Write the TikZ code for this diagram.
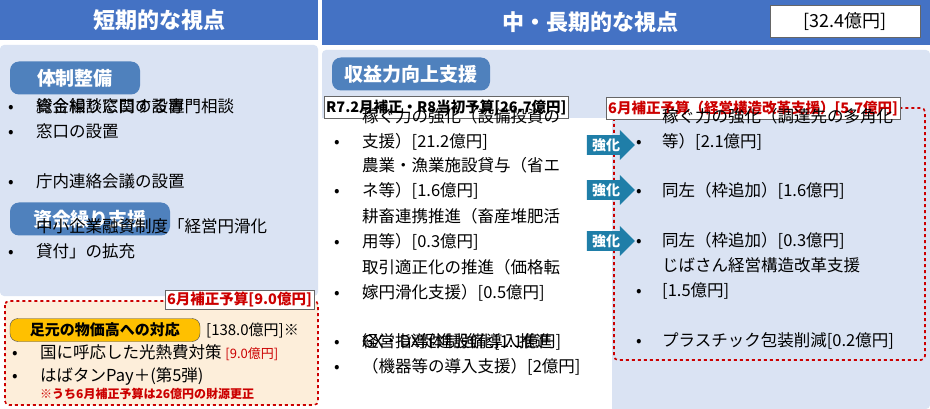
\documentclass[tikz,border=0pt]{standalone}
\usepackage{fontspec}
\setmainfont{Noto Sans CJK JP}
\usetikzlibrary{shapes.arrows}
\definecolor{hdblue}{RGB}{68,114,196}
\definecolor{panel}{RGB}{218,227,243}
\definecolor{pillblue}{RGB}{79,129,189}
\definecolor{arrowblue}{RGB}{31,126,168}
\definecolor{redline}{RGB}{204,0,0}
\definecolor{paleorange}{RGB}{253,238,218}
\definecolor{gold}{RGB}{255,192,0}
\tikzset{
  header/.style={fill=hdblue, draw=none},
  pill/.style={rounded corners=9pt, fill=pillblue, text=white, font=\fontsize{19}{22}\selectfont\bfseries, inner sep=0pt, minimum height=33pt},
  body/.style={anchor=north west, align=left, inner sep=0pt, text height=15pt, text depth=4pt, font=\fontsize{16.5}{24.5}\selectfont},
  dot/.style={anchor=north west, inner sep=0pt, text height=15pt, text depth=4pt, font=\fontsize{16.5}{24.5}\selectfont},
  tag/.style={draw=black!60, fill=white, inner sep=2pt, font=\fontsize{14.5}{16}\selectfont\bfseries},
  strong/.style={single arrow, fill=arrowblue, text=white, minimum height=48pt, minimum width=30pt,
    single arrow head extend=4pt, inner sep=1pt, font=\fontsize{14}{16}\selectfont\bfseries}
}
\begin{document}
\begin{tikzpicture}[x=1pt, y=-1pt]
  \useasboundingbox (0,0) rectangle (930,409);
  % headers
  \fill[header] (0,0) rectangle (318,40);
  \node[text=white, font=\fontsize{22}{26}\selectfont\bfseries] (shortT) at (159,20) {短期的な視点};
  \fill[header] (322,0) rectangle (930,45);
  \node[text=white, font=\fontsize{22}{26}\selectfont\bfseries] (longT) at (590,22) {中・長期的な視点};
  \node[draw=black!60, fill=white, minimum width=150pt, minimum height=32pt, font=\fontsize{18}{20}\selectfont] (total) at (845,21) {[32.4億円]};
  % panels
  \fill[panel, rounded corners=4pt] (0,45) rectangle (318,296);
  \fill[panel, rounded corners=4pt] (322,50) rectangle (930,409);
  % left: system
  \node[pill, minimum width=130pt] (sys) at (75,78) {体制整備};
  \foreach \y/\t in {97/総合相談窓口の設置, 122/{資金繰りに関する専門相談\\窓口の設置}, 172/庁内連絡会議の設置} {
    \node[dot] at (8,\y) {•};
    \node[body] at (36,\y) {\t};
  }
  \node[pill, minimum width=160pt] (fund) at (90,219) {資金繰り支援};
  \node[dot] at (8,242) {•};
  \node[body] (loan) at (36,242) {中小企業融資制度「経営円滑化\\貸付」の拡充};
  % left: price box
  \draw[redline, dashed, line width=1.6pt, fill=paleorange, rounded corners=4pt] (5,301) rectangle (318,405);
  \node[tag, text=redline, anchor=north east] (june1) at (314,290) {6月補正予算[9.0億円]};
  \node[rounded corners=8pt, draw=black!70, fill=gold, inner sep=0pt, minimum width=190pt, minimum height=23pt,
    font=\fontsize{15}{16}\selectfont\bfseries] (price) at (105,330) {足元の物価高への対応};
  \node[anchor=west, inner sep=0pt, font=\fontsize{15}{16}\selectfont] (priceV) at (206,330) {[138.0億円]※};
  \node[dot] at (12,343) {•};
  \node[body] (light) at (40,343) {国に呼応した光熱費対策 {\fontsize{13}{14}\selectfont\color{redline}[9.0億円]}};
  \node[dot] at (12,366) {•};
  \node[body] (pay) at (40,366) {はばタンPay＋(第5弾)};
  \node[anchor=north west, inner sep=0pt, text=redline, font=\fontsize{12}{13}\selectfont\bfseries] (note) at (40,388) {※うち6月補正予算は26億円の財源更正};
  % right: profit
  \node[pill, minimum width=158pt] (profit) at (411,74) {収益力向上支援};
  \fill[white] (322,118) rectangle (612,409);
  \node[tag, anchor=north west, minimum height=22pt] (r7) at (324,96) {R7.2月補正・R8当初予算[26.7億円]};
  \draw[redline, dashed, line width=1.6pt, rounded corners=4pt] (614,108) rectangle (925,360);
  \node[tag, text=redline, anchor=north west, minimum height=22pt] (june2) at (606,97) {6月補正予算（経営構造改革支援）[5.7億円]};
  \foreach \y/\t in {132/{稼ぐ力の強化（設備投資の\\支援）[21.2億円]}, 181/{農業・漁業施設貸与（省エ\\ネ等）[1.6億円]},
      232/{耕畜連携推進（畜産堆肥活\\用等）[0.3億円]}, 283/{取引適正化の推進（価格転\\嫁円滑化支援）[0.5億円]},
      332/経営指導体制強化[1.1億円], 357/{GX・DX促進設備導入推進\\（機器等の導入支援）[2億円]}} {
    \node[dot] at (334,\y) {•};
    \node[body] at (362,\y) {\t};
  }
  \foreach \y/\t in {132/{稼ぐ力の強化（調達先の多角化\\等）[2.1億円]}, 181/同左（枠追加）[1.6億円],
      231/同左（枠追加）[0.3億円], 281/{じばさん経営構造改革支援\\{}[1.5億円]}, 331/プラスチック包装削減[0.2億円]} {
    \node[dot] at (636,\y) {•};
    \node[body] at (662,\y) {\t};
  }
  \foreach \y/\n in {145/a1, 190/a2, 241/a3} {
    \node[strong] (\n) at (606,\y) {強化};
  }
\end{tikzpicture}
\end{document}
